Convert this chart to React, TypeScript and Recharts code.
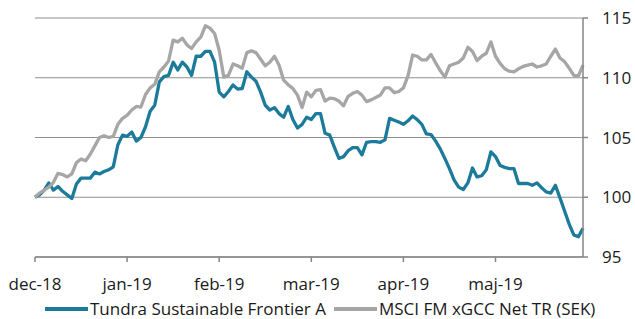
import React from 'react'
import { LineChart, Line, XAxis, YAxis, CartesianGrid, Legend } from 'recharts'

// trading-day index, ~20 per month, dec-18 .. end of maj-19
const MONTHS = ['dec-18', 'jan-19', 'feb-19', 'mar-19', 'apr-19', 'maj-19']
const MONTH_TICKS = [0, 20, 40, 60, 80, 100]
const Y_TICKS = [95, 100, 105, 110, 115]

const TUNDRA = [
  100.0, 100.2, 100.6, 101.2, 100.6, 100.9, 100.5, 100.2, 99.9, 101.1,
  101.6, 101.6, 101.6, 102.1, 101.95, 102.15, 102.3, 102.55, 104.4, 105.2,
  105.1, 105.45, 104.7, 105.0, 105.9, 107.2, 107.7, 109.65, 110.1, 110.2,
  111.3, 110.65, 111.3, 110.9, 110.2, 111.8, 111.8, 112.2, 112.2, 111.3,
  108.8, 108.4, 108.85, 109.4, 109.05, 109.1, 110.5, 110.05, 109.7, 108.8,
  107.7, 107.3, 107.5, 107.0, 106.7, 107.6, 106.5, 105.8, 106.1, 106.7,
  106.5, 107.0, 107.0, 105.35, 105.2, 104.2, 103.25, 103.4, 103.9, 104.15,
  104.15, 103.55, 104.6, 104.65, 104.65, 104.6, 104.8, 106.6, 106.45, 106.3,
  106.1, 106.4, 106.8, 106.5, 106.1, 105.3, 105.25, 104.7, 104.05, 103.25,
  102.4, 101.45, 100.85, 100.65, 101.2, 102.45, 101.7, 101.8, 102.3, 103.8,
  103.4, 102.65, 102.5, 102.4, 102.4, 101.15, 101.15, 101.15, 101.0, 101.2,
  100.8, 100.45, 100.35, 101.0, 99.95, 98.85, 97.75, 96.85, 96.7, 97.4,
]

const MSCI = [
  100.0, 100.35, 100.6, 100.85, 101.25, 102.0, 101.9, 101.7, 101.95, 102.9,
  103.2, 103.05, 103.6, 104.3, 105.0, 105.15, 105.0, 105.1, 106.1, 106.6,
  106.85, 107.3, 107.6, 107.55, 108.6, 109.15, 109.45, 110.5, 110.9, 111.4,
  113.15, 113.0, 113.3, 112.75, 112.45, 113.0, 113.4, 114.35, 114.15, 113.7,
  112.3, 110.05, 110.2, 111.15, 111.0, 110.8, 112.1, 112.25, 112.1, 111.55,
  111.0, 111.3, 111.8, 111.05, 109.8, 109.4, 109.1, 108.55, 107.5, 108.8,
  108.4, 108.95, 109.0, 108.05, 108.3, 108.25, 108.05, 107.65, 108.45, 108.7,
  108.85, 108.55, 108.0, 108.15, 108.35, 108.55, 109.15, 109.15, 108.75, 108.85,
  109.15, 110.15, 111.9, 111.8, 111.5, 111.5, 111.95, 111.25, 110.6, 110.05,
  111.0, 111.15, 111.3, 111.65, 112.55, 112.2, 111.45, 111.8, 112.05, 113.0,
  111.8, 111.2, 110.75, 110.55, 110.5, 110.75, 110.95, 111.05, 111.15, 110.9,
  111.0, 111.15, 111.8, 112.4, 111.65, 111.35, 110.8, 110.2, 110.15, 111.05,
]

const SERIES = [
  { key: 'tundra', name: 'Tundra Sustainable Frontier A', color: '#1c7b9b' },
  { key: 'msci', name: 'MSCI FM xGCC Net TR (SEK)', color: '#a6a6a6' },
]

const data = TUNDRA.map((v, i) => ({ i, tundra: v, msci: MSCI[i] }))

const FONT = '"Open Sans", Lato, sans-serif'
const AXIS_GRAY = '#868686'

function LegendBox() {
  return (
    <div style={styles.legend}>
      {SERIES.map((s, k) => (
        <div key={s.key} style={{ ...styles.legendItem, marginRight: k === 0 ? 8 : 0 }}>
          <span style={{ ...styles.swatch, background: s.color }} />
          <span>{s.name}</span>
        </div>
      ))}
    </div>
  )
}

export default function App() {
  return (
    <div style={styles.page}>
      <LineChart width={635} height={319} data={data}
        margin={{ top: 18, right: 0, bottom: 32, left: 35 }}>
        <CartesianGrid vertical={false} stroke="#8f8f8f" strokeWidth={1.2} />
        <XAxis dataKey="i" type="number" domain={[0, 119]} ticks={MONTH_TICKS}
          tickFormatter={(v: number) => MONTHS[MONTH_TICKS.indexOf(v)] ?? ''}
          height={30} tickSize={5} tickMargin={16}
          stroke={AXIS_GRAY} strokeWidth={1.5}
          tick={{ fill: '#1a1a1a', fontSize: 17, fontFamily: FONT }} />
        <XAxis xAxisId="top" dataKey="i" type="number" domain={[0, 119]} orientation="top"
          height={0} tick={false} tickLine={false} stroke="#1a1a1a" />
        <YAxis yAxisId="left" orientation="left" domain={[95, 115]} width={0}
          tick={false} tickLine={false} stroke="#1a1a1a" />
        <YAxis orientation="right" domain={[95, 115]} ticks={Y_TICKS} width={52}
          tickSize={5} tickMargin={14} stroke={AXIS_GRAY} strokeWidth={1.5}
          tick={{ fill: '#1a1a1a', fontSize: 17, fontFamily: FONT }} />
        <Legend verticalAlign="middle" align="center" content={() => <LegendBox />}
          wrapperStyle={{ top: 300, left: 45, width: 590 }} />
        {SERIES.map(s => (
          <Line key={s.key} dataKey={s.key} name={s.name} stroke={s.color}
            strokeWidth={3.3} dot={false} strokeLinejoin="round"
            isAnimationActive={false} />
        ))}
      </LineChart>
    </div>
  )
}

const styles: Record<string, React.CSSProperties> = {
  page: { position: 'absolute', left: 0, top: 0, width: 635, height: 319, background: '#fff' },
  legend: { display: 'flex', fontFamily: FONT, fontSize: 17, color: '#1a1a1a', lineHeight: '18px', height: 18, whiteSpace: 'nowrap' },
  legendItem: { display: 'flex', alignItems: 'center' },
  swatch: { display: 'inline-block', width: 43, height: 4, marginRight: 2 },
}
